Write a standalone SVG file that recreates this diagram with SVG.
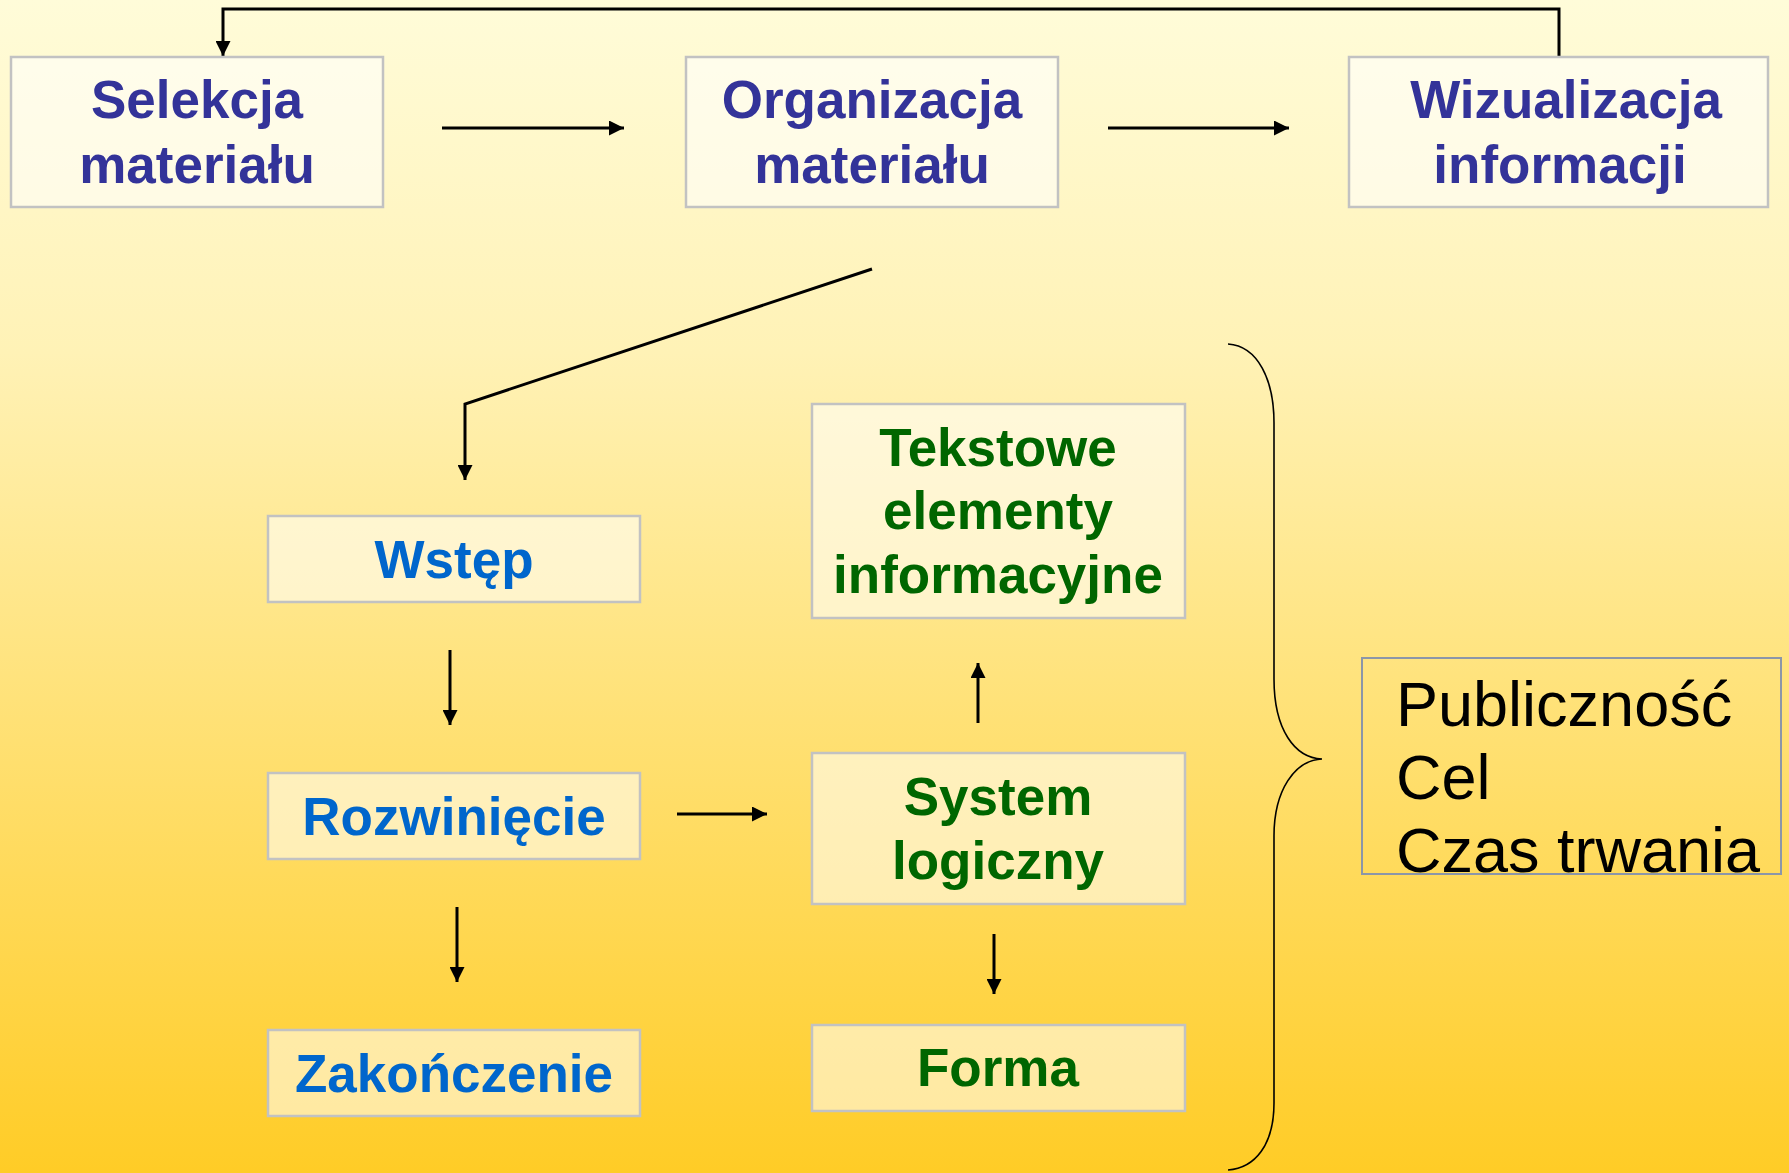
<svg xmlns="http://www.w3.org/2000/svg" width="1789" height="1173" viewBox="0 0 1789 1173">
<defs>
<linearGradient id="bg" x1="0" y1="0" x2="0" y2="1">
<stop offset="0" stop-color="#FFFCD9"/>
<stop offset="0.3" stop-color="#FFF2B6"/>
<stop offset="1" stop-color="#FFCC26"/>
</linearGradient>
<marker id="ah" markerUnits="userSpaceOnUse" markerWidth="15" markerHeight="15" refX="15" refY="7.5" orient="auto">
<path d="M0,0 L15,7.5 L0,15 z" fill="#000"/>
</marker>
<style>
.box{fill:#ffffff;fill-opacity:0.55;stroke:#c2c2c2;stroke-width:2.5}
.t{font-family:"Liberation Sans",Arial,sans-serif;font-weight:bold;font-size:53px;text-anchor:middle}
.navy{fill:#333399}
.blue{fill:#0066CC}
.green{fill:#006600}
.c{fill:none;stroke:#000;stroke-width:3}
.ca{fill:none;stroke:#000;stroke-width:3;marker-end:url(#ah)}
.plain{font-family:"Liberation Sans",Arial,sans-serif;font-size:63px;fill:#000}
</style>
</defs>
<rect x="0" y="0" width="1789" height="1173" fill="url(#bg)"/>

<g id="connectors">
<path class="ca" d="M1559,57 L1559,9 L223,9 L223,56"/>
<path class="ca" d="M442,128 L624,128"/>
<path class="ca" d="M1108,128 L1289,128"/>
<path class="ca" d="M872,269 L465,404 L465,480"/>
<path class="ca" d="M450,650 L450,725"/>
<path class="ca" d="M677,814 L767,814"/>
<path class="ca" d="M978,723 L978,663"/>
<path class="ca" d="M457,907 L457,982"/>
<path class="ca" d="M994,934 L994,994"/>
<path class="c" style="stroke-width:1.6" d="M1228,344 C1258,346 1274,380 1274,423 L1274,679 C1274,730 1295,758 1322,759 C1295,760 1274,790 1274,836 L1274,1103 C1274,1145 1255,1168 1228,1170"/>
</g>

<g id="selekcja">
<rect class="box" x="11" y="57" width="372" height="150"/>
<text class="t navy" x="197" y="118">Selekcja</text>
<text class="t navy" x="197" y="183">materiału</text>
</g>
<g id="organizacja">
<rect class="box" x="686" y="57" width="372" height="150"/>
<text class="t navy" x="872" y="118">Organizacja</text>
<text class="t navy" x="872" y="183">materiału</text>
</g>
<g id="wizualizacja">
<rect class="box" x="1349" y="57" width="419" height="150"/>
<text class="t navy" x="1566" y="118">Wizualizacja</text>
<text class="t navy" x="1560" y="183">informacji</text>
</g>

<g id="wstep">
<rect class="box" x="268" y="516" width="372" height="86"/>
<text class="t blue" x="454" y="578">Wstęp</text>
</g>
<g id="rozwiniecie">
<rect class="box" x="268" y="773" width="372" height="86"/>
<text class="t blue" x="454" y="835">Rozwinięcie</text>
</g>
<g id="zakonczenie">
<rect class="box" x="268" y="1030" width="372" height="86"/>
<text class="t blue" x="454" y="1092">Zakończenie</text>
</g>

<g id="tekstowe">
<rect class="box" x="812" y="404" width="373" height="214"/>
<text class="t green" x="998" y="466">Tekstowe</text>
<text class="t green" x="998" y="529">elementy</text>
<text class="t green" x="998" y="593">informacyjne</text>
</g>
<g id="system">
<rect class="box" x="812" y="753" width="373" height="151"/>
<text class="t green" x="998" y="815">System</text>
<text class="t green" x="998" y="879">logiczny</text>
</g>
<g id="forma">
<rect class="box" x="812" y="1025" width="373" height="86"/>
<text class="t green" x="998" y="1086">Forma</text>
</g>

<g id="kontekst">
<rect x="1362" y="658" width="419" height="216" fill="none" stroke="#8c96a8" stroke-width="2"/>
<text class="plain" x="1396" y="726">Publiczność</text>
<text class="plain" x="1396" y="799">Cel</text>
<text class="plain" x="1396" y="872">Czas trwania</text>
</g>
</svg>
